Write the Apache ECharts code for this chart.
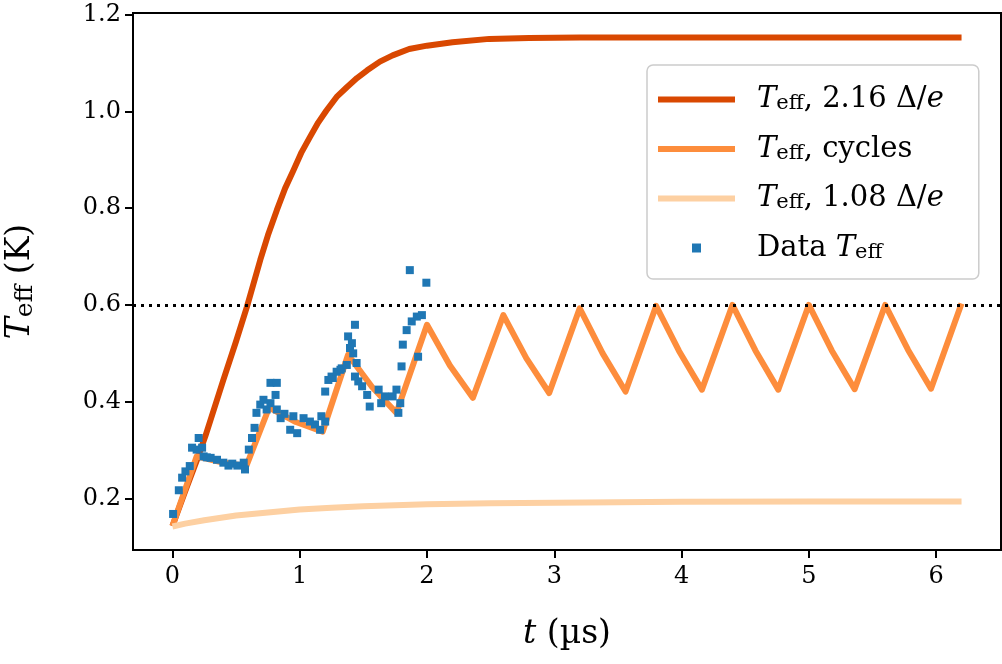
<!DOCTYPE html>
<html><head><meta charset="utf-8">
<script src="https://cdn.jsdelivr.net/npm/echarts@6/dist/echarts.min.js"></script>
<style>html,body{margin:0;padding:0;background:#fff}#c{width:1002px;height:664px}</style>
</head><body><div id="c"></div>
<script>
// ---- data ----
const xTicks = [0, 1, 2, 3, 4, 5, 6];
const yTicks = [0.2, 0.4, 0.6, 0.8, 1.0, 1.2];
const thresholdK = 0.6;

// T_eff, 2.16 Δ/e
const hotT = [0, 0.1, 0.2, 0.26, 0.4, 0.5, 0.585, 0.69, 0.75, 0.82, 0.885, 0.95, 1.015, 1.08, 1.145, 1.21, 1.29, 1.37, 1.45, 1.53, 1.63, 1.73, 1.86, 2.0, 2.2, 2.49, 2.8, 3.2, 4.0, 5.0, 6.2];
const hotV = [0.143, 0.215, 0.285, 0.33, 0.445, 0.525, 0.596, 0.693, 0.744, 0.796, 0.841, 0.878, 0.916, 0.947, 0.977, 1.002, 1.03, 1.05, 1.069, 1.085, 1.103, 1.116, 1.129, 1.136, 1.143, 1.15, 1.152, 1.153, 1.153, 1.153, 1.153];

// T_eff, cycles
const cycT = [0, 0.19, 0.38, 0.58, 0.76, 0.97, 1.18, 1.38, 1.57, 1.76, 2.0, 2.18, 2.36, 2.6, 2.78, 2.96, 3.2, 3.38, 3.56, 3.8, 3.98, 4.16, 4.4, 4.58, 4.76, 5.0, 5.18, 5.36, 5.6, 5.78, 5.96, 6.2];
const cycV = [0.143, 0.287, 0.275, 0.267, 0.388, 0.358, 0.338, 0.497, 0.43, 0.377, 0.559, 0.475, 0.408, 0.579, 0.49, 0.418, 0.593, 0.50, 0.421, 0.598, 0.505, 0.425, 0.600, 0.506, 0.425, 0.600, 0.506, 0.426, 0.600, 0.507, 0.427, 0.603];

// T_eff, 1.08 Δ/e
const coldT = [0, 0.1, 0.25, 0.5, 0.75, 1.0, 1.25, 1.5, 2.0, 2.5, 3.0, 4.0, 5.0, 6.2];
const coldV = [0.142, 0.148, 0.155, 0.165, 0.171, 0.177, 0.181, 0.184, 0.188, 0.19, 0.191, 0.193, 0.194, 0.194];

// Data T_eff
const dataT = [0.005, 0.05, 0.076, 0.102, 0.136, 0.154, 0.19, 0.206, 0.233, 0.245, 0.27, 0.30, 0.35, 0.40, 0.44, 0.47, 0.51, 0.56, 0.57, 0.60,
  0.625, 0.645, 0.66, 0.69, 0.715, 0.74, 0.77, 0.77, 0.81, 0.82, 0.82, 0.85, 0.88, 0.925, 0.95, 0.98, 1.03, 1.08, 1.12, 1.16,
  1.17, 1.2, 1.2, 1.225, 1.25, 1.26, 1.29, 1.32, 1.33, 1.37, 1.38, 1.395, 1.41, 1.42, 1.434, 1.447, 1.434, 1.46, 1.49, 1.53,
  1.55, 1.62, 1.64, 1.67, 1.73, 1.76, 1.775, 1.79, 1.80, 1.81, 1.84, 1.865, 1.88, 1.92, 1.93, 1.96, 1.995];
const dataV = [0.168, 0.217, 0.243, 0.256, 0.267, 0.305, 0.301, 0.325, 0.305, 0.287, 0.285, 0.284, 0.280, 0.274, 0.268, 0.272, 0.268, 0.274, 0.260, 0.301,
  0.325, 0.346, 0.377, 0.394, 0.404, 0.384, 0.439, 0.397, 0.414, 0.439, 0.384, 0.366, 0.375, 0.342, 0.37, 0.335, 0.366, 0.359, 0.353, 0.342,
  0.37, 0.359, 0.421, 0.445, 0.452, 0.449, 0.462, 0.466, 0.469, 0.476, 0.535, 0.511, 0.521, 0.50, 0.559, 0.48, 0.452, 0.442, 0.432, 0.414,
  0.39, 0.425, 0.397, 0.411, 0.411, 0.425, 0.377, 0.397, 0.473, 0.518, 0.548, 0.672, 0.566, 0.576, 0.493, 0.579, 0.646];

const legendText = {
  hot: '{i|T}{s|eff}{r|, 2.16 Δ/}{i|e}',
  cycles: '{i|T}{s|eff}{r|, cycles}',
  cold: '{i|T}{s|eff}{r|, 1.08 Δ/}{i|e}',
  data: '{r|Data }{i|T}{s|eff}'
};

const zip = (a, b) => a.map((v, i) => [v, b[i]]);
const FONT = 'DejaVu Serif';
function makeRich(fs, sfs, lh, slh) {
  return {
    i: { fontFamily: FONT, fontSize: fs, fontStyle: 'italic', lineHeight: lh, color: '#000' },
    r: { fontFamily: FONT, fontSize: fs, lineHeight: lh, color: '#000' },
    s: { fontFamily: FONT, fontSize: sfs, lineHeight: slh, verticalAlign: 'bottom', color: '#000' }
  };
}
const legendRich = makeRich(29, 21, 30, 16);
const titleRich = makeRich(33, 25, 36, 19);

const chart = echarts.init(document.getElementById('c'), null, { renderer: 'canvas' });
chart.setOption({
  animation: false,
  backgroundColor: '#fff',
  grid: { left: 133, right: 1, top: 13, bottom: 114, containLabel: false, outerBoundsMode: 'none',
    show: true, borderColor: '#000', borderWidth: 2, backgroundColor: 'transparent' },
  xAxis: {
    type: 'value', min: -0.31, max: 6.51,
    name: '{i|t}{r| (µs)}', nameLocation: 'middle', nameGap: 66,
    nameTextStyle: { rich: titleRich },
    axisLine: { show: true, onZero: false, lineStyle: { color: '#000', width: 2 } },
    axisTick: { show: true, length: 8, lineStyle: { color: '#000', width: 2 }, customValues: xTicks },
    axisLabel: { customValues: xTicks, margin: 15, fontFamily: FONT, fontSize: 24, color: '#000', formatter: v => String(v) },
    splitLine: { show: false }
  },
  yAxis: {
    type: 'value', min: 0.0935, max: 1.2035,
    name: '{i|T}{s|eff}{r| (K)}', nameLocation: 'middle', nameGap: 95, nameRotate: 90,
    nameTextStyle: { rich: titleRich },
    axisLine: { show: true, onZero: false, lineStyle: { color: '#000', width: 2 } },
    axisTick: { show: true, length: 8, lineStyle: { color: '#000', width: 2 }, customValues: yTicks },
    axisLabel: { customValues: yTicks, margin: 12, fontFamily: FONT, fontSize: 24, color: '#000', formatter: v => v.toFixed(1) },
    splitLine: { show: false }
  },
  legend: {
    orient: 'vertical', left: 647, top: 65,
    padding: [20, 35, 16, 11], itemGap: 20, itemWidth: 77, itemHeight: 9,
    backgroundColor: 'rgba(255,255,255,0.8)', borderColor: '#cccccc', borderWidth: 1.5, borderRadius: 6,
    selectedMode: false, symbolKeepAspect: true,
    itemStyle: { borderWidth: 0 },
    data: [
      { name: 'hot', icon: 'path://M0,0h77v6h-77z' },
      { name: 'cycles', icon: 'path://M0,0h77v6h-77z' },
      { name: 'cold', icon: 'path://M0,0h77v6h-77z' },
      { name: 'data', icon: 'path://M0,0h10v10h-10z' }
    ],
    formatter: n => legendText[n],
    textStyle: { fontFamily: FONT, fontSize: 29, color: '#000', padding: [0, 0, 0, 17], rich: legendRich }
  },
  series: [
    { name: 'hot', type: 'line', data: zip(hotT, hotV), showSymbol: false, symbol: 'none',
      color: '#d94801', lineStyle: { color: '#d94801', width: 6, join: 'round' }, z: 2 },
    { name: 'cycles', type: 'line', data: zip(cycT, cycV), showSymbol: false, symbol: 'none',
      color: '#fd8d3c', lineStyle: { color: '#fd8d3c', width: 6, join: 'round' }, z: 3 },
    { name: 'cold', type: 'line', data: zip(coldT, coldV), showSymbol: false, symbol: 'none',
      color: '#fdd0a2', lineStyle: { color: '#fdd0a2', width: 6, join: 'round' }, z: 4,
      markLine: { silent: true, symbol: 'none', label: { show: false },
        lineStyle: { color: '#000', type: [3, 5], width: 3 }, data: [{ yAxis: thresholdK }] } },
    { name: 'data', type: 'scatter', data: zip(dataT, dataV), symbol: 'rect', symbolSize: 8,
      color: '#1f77b4', itemStyle: { color: '#1f77b4', opacity: 1 }, z: 5 }
  ]
});
</script>
</body></html>
